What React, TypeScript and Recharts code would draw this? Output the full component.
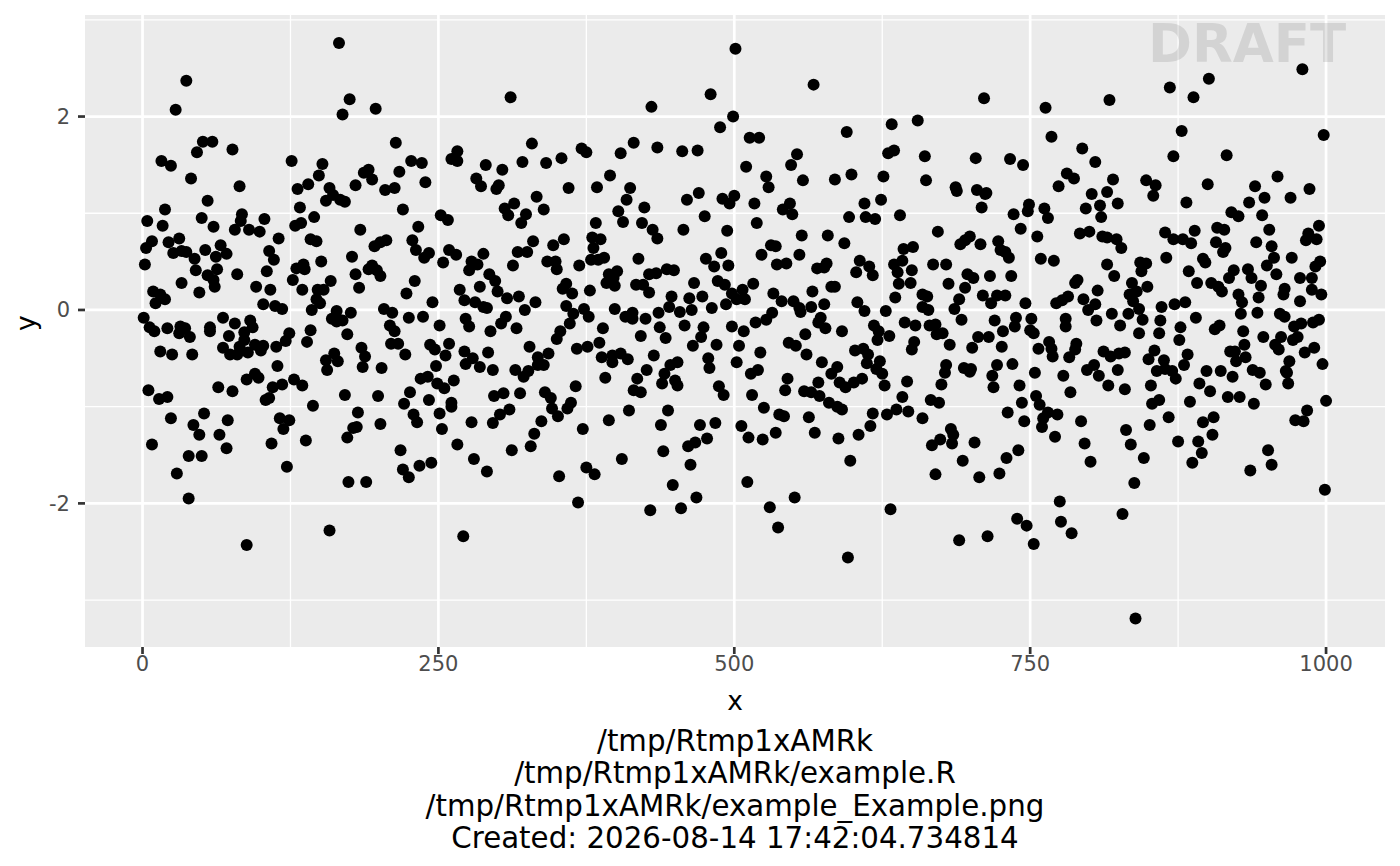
import React from 'react';
import { ScatterChart, Scatter, XAxis, YAxis, CartesianGrid } from 'recharts';

// values, [x, y], one list per picture region
const upperLeft: number[][] = [
  [166,2.76],[37,2.37],[28,2.07],[175,2.18],[169,2.02],[197,2.08],[214,1.73],[51,1.74],[59,1.74],[46,1.63],[76,1.66],[16,1.54],[24,1.49],[41,1.36],[82,1.28],[55,1.13],[19,1.04],
  [126,1.54],[152,1.51],[149,1.39],[140,1.30],[131,1.25],[158,1.26],[161,1.19],[155,1.13],[167,1.14],[171,1.12],[133,1.06],[180,1.29],[187,1.42],[191,1.45],[194,1.35],[205,1.24],[213,1.26],[217,1.43],[227,1.54],[236,1.52],[239,1.32],[220,1.04],[252,0.98],[258,0.93],[261,1.56],[266,1.64],[266,1.54],
  [4,0.92],[17,0.87],[50,0.95],[60,0.86],[84,0.99],[83,0.92],[78,0.83],[90,0.83],[99,0.81],[103,0.94],[115,0.74],[129,0.87],[134,0.90],[145,0.96],[184,0.83],[233,0.86],[228,0.72],[206,0.72],[201,0.70],[196,0.66],[142,0.73],[147,0.71],[8,0.71],[3,0.64],[31,0.74],[22,0.70],[26,0.59],[33,0.61],[37,0.60],[44,0.53],[53,0.62],[66,0.67],[71,0.58],[62,0.55],[107,0.61],[111,0.52],[177,0.55],[231,0.62],[242,0.59],[238,0.54],[259,0.62],[265,0.57],
  [2,0.47],[45,0.41],[63,0.42],[55,0.36],[60,0.31],[80,0.37],[105,0.40],[130,0.43],[136,0.47],[137,0.42],[151,0.50],[127,0.31],[159,0.30],[180,0.37],[194,0.46],[191,0.42],[198,0.41],[201,0.35],[254,0.49],[230,0.30],[33,0.28],[61,0.24],[96,0.24],[108,0.21],[135,0.21],[148,0.21],[153,0.21],[183,0.23],[48,0.18],[9,0.19],[15,0.16],[19,0.11],[11,0.07],[223,0.17],[268,0.21],[147,0.11],[150,0.07],[102,0.06],[112,0.04],[118,0.01],[143,0.00],[245,0.08],[204,0.01],[211,-0.03],[164,-0.01],[176,-0.03],
];

const lowerLeft: number[][] = [
  [1,-0.08],[6,-0.18],[10,-0.22],[21,-0.19],[32,-0.17],[36,-0.19],[31,-0.24],[40,-0.28],[57,-0.18],[57,-0.22],[68,-0.08],[78,-0.14],[91,-0.11],[93,-0.18],[86,-0.23],[73,-0.27],[86,-0.31],[82,-0.38],[68,-0.39],[95,-0.36],[102,-0.37],[100,-0.42],[89,-0.44],[80,-0.46],[74,-0.46],[113,-0.38],[121,-0.32],[124,-0.24],[142,-0.21],[139,-0.33],
  [164,-0.08],[160,-0.09],[169,-0.11],[164,-0.12],[173,-0.25],[185,-0.39],[188,-0.48],[186,-0.59],[162,-0.45],[165,-0.53],[155,-0.52],[156,-0.62],[202,-0.60],[209,-0.16],[213,-0.22],[210,-0.35],[216,-0.35],[222,-0.46],[225,-0.08],[237,-0.07],[251,-0.16],[243,-0.36],[247,-0.41],[259,-0.35],[256,-0.47],[248,-0.58],[15,-0.43],[25,-0.46],[42,-0.46],[114,-0.58],[88,-0.72],[95,-0.66],[98,-0.70],[128,-0.72],[135,-0.78],[110,-0.80],[118,-0.77],[64,-0.80],[76,-0.84],
  [5,-0.83],[14,-0.92],[21,-0.90],[107,-0.91],[104,-0.93],[144,-0.99],[171,-0.88],[199,-0.89],[235,-0.71],[241,-0.69],[249,-0.76],[255,-0.81],[263,-0.73],[226,-0.85],[221,-0.97],[242,-0.93],[261,-0.96],[261,-1.00],[24,-1.12],[52,-1.07],[43,-1.19],[48,-1.29],[72,-1.14],[65,-1.29],[116,-1.12],[124,-1.14],[119,-1.23],[138,-1.35],[182,-1.06],[181,-1.21],[178,-1.22],[173,-1.32],[201,-1.18],[229,-1.08],[232,-1.16],[251,-1.07],[253,-1.23],[266,-1.39],[218,-1.45],
  [8,-1.39],[109,-1.38],[71,-1.43],[39,-1.51],[50,-1.51],[122,-1.62],[244,-1.58],[234,-1.61],[220,-1.65],[225,-1.73],[29,-1.69],[174,-1.78],[189,-1.78],[39,-1.95],[158,-2.28],[88,-2.43],
];

const upperMiddle: number[][] = [
  [501,2.70],[311,2.20],[480,2.23],[567,2.33],[430,2.10],[499,2.00],[488,1.89],[633,1.92],[655,1.96],[595,1.84],[513,1.78],[521,1.78],[329,1.72],[371,1.67],[375,1.63],[404,1.62],[415,1.73],[435,1.68],[456,1.64],[469,1.65],[630,1.62],[635,1.65],[553,1.61],[548,1.50],[510,1.48],[290,1.50],[304,1.45],[321,1.53],[341,1.52],[354,1.57],[395,1.39],[282,1.36],[286,1.28],[301,1.29],[299,1.25],[360,1.26],[384,1.27],[412,1.26],[333,1.17],[409,1.14],[314,1.10],[306,1.05],[339,1.04],[324,0.99],[309,0.98],[320,0.90],[402,1.02],[424,1.06],[383,0.90],[406,0.91],[422,0.90],[431,0.83],[435,0.74],[457,0.83],
  [460,1.14],[470,1.21],[475,0.97],[490,1.15],[500,1.18],[496,1.10],[517,1.10],[519,0.90],[494,0.82],[527,1.38],[529,1.27],[558,1.34],[585,1.35],[599,1.40],[626,1.38],[624,1.14],[610,1.10],[547,1.10],[541,1.04],[549,0.99],[597,0.96],[611,0.96],[619,0.94],[640,0.98],[557,0.77],[579,0.77],[593,0.69],[531,0.67],[535,0.66],[523,0.57],[555,0.57],[643,0.63],[651,0.65],
  [380,0.75],[387,0.73],[381,0.64],[356,0.73],[347,0.67],[330,0.71],[317,0.60],[325,0.60],[288,0.58],[278,0.50],[283,0.47],[276,0.41],[342,0.50],[349,0.50],[350,0.42],[313,0.46],[369,0.46],[379,0.52],[385,0.52],[390,0.54],[419,0.53],[476,0.53],[483,0.45],[489,0.59],[495,0.46],[428,0.37],[434,0.38],[443,0.42],[449,0.41],[401,0.40],[394,0.37],[392,0.28],[399,0.25],[398,0.33],[293,0.37],[298,0.30],[285,0.24],[300,0.19],[358,0.27],[355,0.22],[363,0.17],[378,0.20],[417,0.26],[423,0.26],[428,0.18],[466,0.28],[447,0.14],[462,0.12],[473,0.14],[486,0.30],[492,0.26],[516,0.27],[507,0.21],[498,0.17],[502,0.11],[509,0.11],
  [536,0.47],[544,0.48],[570,0.43],[576,0.44],[578,0.48],[582,0.24],[585,0.24],[566,0.19],[533,0.17],[540,0.09],[550,0.09],[555,0.02],[556,-0.02],[565,0.03],[576,0.06],[604,0.08],[610,-0.01],[628,-0.01],[636,0.13],[606,0.51],[603,0.39],[614,0.45],[617,0.36],[635,0.47],[642,0.51],[638,0.39],[650,0.41],[639,0.27],[649,0.28],[318,0.14],[308,0.12],[332,0.08],[323,0.00],[272,0.10],[281,0.08],[288,0.03],[291,0.02],[358,0.04],[364,-0.04],[373,0.01],[377,-0.07],[399,0.01],[408,-0.07],[414,-0.03],[414,-0.09],[425,-0.09],[436,-0.03],[445,0.03],[454,-0.02],[464,0.00],[481,0.02],[493,0.06],[532,-0.03],[527,-0.10],[518,-0.13],
];

const lowerMiddle: number[][] = [
  [273,-0.09],[276,-0.17],[294,-0.22],[307,-0.07],[303,-0.14],[316,-0.19],[361,-0.14],[353,-0.22],[350,-0.30],[327,-0.38],[272,-0.43],[292,-0.44],[279,-0.50],[273,-0.56],[285,-0.59],[296,-0.62],[367,-0.40],[376,-0.38],[386,-0.34],[389,-0.19],[343,-0.45],[334,-0.49],[339,-0.57],[334,-0.57],[315,-0.62],[326,-0.63],[322,-0.69],[388,-0.49],[397,-0.47],[404,-0.45],[410,-0.51],[397,-0.54],[391,-0.70],[366,-0.79],
  [421,-0.27],[437,-0.18],[442,-0.29],[458,-0.16],[474,-0.18],[472,-0.28],[465,-0.37],[485,-0.36],[432,-0.47],[452,-0.54],[446,-0.57],[478,-0.50],[479,-0.60],[426,-0.62],[441,-0.66],[418,-0.71],[439,-0.76],[450,-0.73],[452,-0.78],[415,-0.83],[421,-0.85],[487,-0.79],[491,-0.88],[498,-0.17],[508,-0.22],[504,-0.37],[502,-0.54],[522,-0.44],[520,-0.62],[514,-0.66],[515,-0.88],[545,-0.71],[543,-0.83],[525,-1.01],
  [560,-0.25],[546,-0.34],[552,-0.37],[561,-0.46],[574,-0.54],[571,-0.13],[573,-0.08],[577,-0.19],[591,-0.22],[618,-0.16],[622,-0.22],[621,-0.31],[631,-0.27],[644,-0.13],[653,-0.16],[652,-0.33],[650,-0.41],[602,-0.42],[609,-0.40],[613,-0.46],[612,-0.55],[623,-0.53],[620,-0.61],[625,-0.66],[587,-0.59],[582,-0.66],[571,-0.75],[589,-0.75],[594,-0.80],[601,-0.75],[608,-0.71],[627,-0.78],[646,-0.74],[559,-0.84],[565,-0.85],[572,-0.89],[580,-0.96],[587,-1.00],[591,-1.03],[642,-0.90],[617,-1.07],[629,-1.08],[637,-1.03],[647,-1.05],[538,-1.08],[542,-1.10],[563,-1.11],
  [297,-0.89],[305,-0.86],[319,-0.86],[340,-0.85],[345,-0.91],[362,-0.96],[359,-1.02],[346,-1.02],[351,-1.10],[310,-1.03],[302,-1.08],[296,-1.17],[278,-1.16],[337,-1.15],[331,-1.28],[372,-1.23],[394,-1.14],[411,-1.04],[444,-1.04],[438,-1.19],[471,-1.19],[484,-1.17],[506,-1.20],[512,-1.32],[524,-1.34],[535,-1.27],[568,-1.27],[588,-1.33],[605,-1.29],[615,-1.20],[477,-1.33],[467,-1.37],[461,-1.41],[328,-1.41],[312,-1.45],[280,-1.54],[291,-1.67],[440,-1.46],[405,-1.54],[375,-1.63],[382,-1.70],[352,-1.72],[463,-1.60],[598,-1.56],[448,-1.81],[511,-1.78],[368,-1.99],[468,-1.94],[551,-1.94],[455,-2.05],[429,-2.07],[530,-2.04],[632,-2.06],[537,-2.25],[271,-2.34],[596,-2.56],
];

const upperRight: number[][] = [
  [980,2.49],[901,2.39],[868,2.30],[888,2.20],[817,2.17],[763,2.09],[711,2.19],[998,1.81],[878,1.85],[768,1.79],[794,1.67],[805,1.53],[871,1.59],[916,1.60],[704,1.57],[733,1.56],[744,1.50],[661,1.59],[662,1.34],[959,1.38],[781,1.41],[787,1.36],[774,1.28],[820,1.35],[848,1.34],[856,1.29],[854,1.18],[802,1.20],[815,1.22],[687,1.27],[688,1.23],[705,1.24],[713,1.21],[712,1.20],[709,1.06],[900,1.30],[940,1.28],[948,1.16],[970,1.16],[986,1.25],[935,1.11],[882,1.11],[824,1.10],[809,1.08],[797,1.05],[749,1.09],[748,1.02],[736,0.99],[762,1.05],[765,0.95],[810,0.96],[920,1.01],[926,0.97],[946,0.98],
  [672,0.81],[994,0.87],[952,0.83],[908,0.85],[914,0.83],[889,0.82],[864,0.80],[871,0.73],[879,0.73],[886,0.69],[792,0.79],[800,0.81],[811,0.76],[815,0.75],[823,0.73],[827,0.64],[742,0.84],[756,0.76],[699,0.76],[695,0.72],[691,0.68],[708,0.68],[723,0.71],[725,0.62],[729,0.60],[732,0.54],[759,0.53],[770,0.51],[985,0.79],[983,0.72],[992,0.73],[907,0.70],[941,0.70],[954,0.66],[915,0.64],[913,0.60],[896,0.53],[865,0.54],[898,0.49],[843,0.49],[848,0.48],[844,0.40],[815,0.47],[821,0.35],[956,0.54],[971,0.54],[950,0.46],[995,0.50],[991,0.45],[958,0.37],[934,0.42],[937,0.33],[922,0.41],[918,0.33],[945,0.25],[978,0.33],[988,0.33],[884,0.40],[891,0.28],[903,0.28],[909,0.24],[912,0.19],[926,0.16],[929,0.08],[943,0.13],[965,0.22],[964,0.16],[978,0.09],[988,0.21],[996,0.16],
  [668,0.47],[679,0.47],[697,0.37],[702,0.33],[716,0.35],[734,0.35],[681,0.27],[695,0.23],[790,0.31],[788,0.28],[807,0.20],[836,0.28],[849,0.24],[840,0.19],[834,0.16],[710,0.15],[722,0.15],[729,0.15],[690,0.11],[717,0.07],[746,0.07],[782,0.14],[777,0.10],[772,0.07],[795,0.11],[805,0.06],[799,0.00],[837,0.09],[842,0.01],[833,-0.04],[861,0.03],[872,0.06],[881,0.08],[686,0.01],[663,0.14],[659,0.16],[664,0.00],[659,0.03],[928,-0.04],[942,-0.03],[961,-0.04],[965,-0.07],[890,-0.08],[819,-0.04],[780,-0.09],[751,-0.09],[738,-0.08],[692,-0.10],[720,-0.11],[806,-0.11],[845,-0.10],[860,-0.11],
];

const lowerRight: number[][] = [
  [994,-0.10],[989,-0.13],[979,-0.14],[973,-0.17],[910,-0.16],[906,-0.20],[877,-0.18],[826,-0.16],[842,-0.24],[859,-0.24],[930,-0.22],[947,-0.28],[962,-0.28],[976,-0.28],[972,-0.31],[780,-0.17],[737,-0.17],[727,-0.22],[750,-0.21],[753,-0.24],[670,-0.15],[665,-0.16],[671,-0.25],[676,-0.24],[706,-0.28],[715,-0.28],[682,-0.36],[701,-0.39],[726,-0.38],[757,-0.40],[766,-0.33],[768,-0.40],[769,-0.48],[789,-0.35],[788,-0.41],[783,-0.49],[812,-0.43],[818,-0.48],[825,-0.45],[830,-0.44],[876,-0.31],[883,-0.46],[880,-0.57],[855,-0.42],[850,-0.51],[863,-0.52],[857,-0.63],[864,-0.61],[870,-0.63],[873,-0.71],[824,-0.62],[804,-0.57],[798,-0.62],[808,-0.68],[778,-0.68],[754,-0.65],[735,-0.56],[722,-0.57],[718,-0.68],[719,-0.80],[741,-0.78],[694,-0.60],[700,-0.61],[699,-0.64],[679,-0.57],[678,-0.65],[675,-0.77],[816,-0.78],[830,-0.82],[852,-0.78],[784,-0.85],[755,-0.89],[758,-0.98],[765,-1.06],[761,-1.12],[773,-1.08],[760,-1.21],[743,-0.96],[731,-1.06],[745,-1.15],[666,-0.93],[673,-0.96],[659,-1.12],[683,-1.23],[685,-1.29],[684,-1.38],[674,-1.34],[667,-1.40],[703,-1.37],[740,-1.45],[730,-1.53],[693,-1.56],[670,-1.70],[707,-1.73],[724,-1.69],
  [771,-1.31],[793,-1.15],[796,-1.38],[801,-1.57],[831,-1.24],[835,-1.39],[846,-1.53],[838,-1.79],[851,-1.19],[867,-1.11],[853,-0.97],[859,-0.93],[875,-1.36],[892,-1.36],[895,-1.48],[887,-1.58],[904,-1.29],[896,-1.16],[905,-1.11],[885,-0.95],[893,-0.76],[902,-0.84],[899,-0.63],[911,-0.63],[921,-0.69],[917,-0.90],[927,-0.90],[939,-0.97],[949,-0.77],[944,-0.65],[938,-0.62],[924,-0.53],[919,-0.43],[923,-0.43],[931,-0.36],[932,-0.49],[957,-0.36],[960,-0.41],[969,-0.53],[966,-0.63],[967,-0.65],[968,-0.76],[982,-0.44],[990,-0.39],[997,-0.56],[1000,-0.94],[984,-1.04],[974,-1.14],[981,-1.15],[951,-1.45],[954,-1.60],[936,-1.66],[999,-1.86],[775,-1.98],[776,-2.19],[785,-2.31],[828,-2.11],[739,-2.16],[747,-2.23],[753,-2.42],[714,-2.34],[690,-2.38],[839,-3.19],
];

const xTicks = [0, 250, 500, 750, 1000];
const xMinor = [125, 375, 625, 875];
const yTicks = [-2, 0, 2];
const yMinor = [-3, -1, 1, 3];
const captionLines = [
  '/tmp/Rtmp1xAMRk',
  '/tmp/Rtmp1xAMRk/example.R',
  '/tmp/Rtmp1xAMRk/example_Example.png',
  'Created: 2026-08-14 17:42:04.734814',
];

const points = [...upperLeft, ...lowerLeft, ...upperMiddle, ...lowerMiddle, ...upperRight, ...lowerRight].map(
  ([x, y]) => ({ x, y })
);

const FONT = '"DejaVu Sans", sans-serif';

const Dot = (props: any) => <circle cx={props.cx} cy={props.cy} r={6} fill="#000" />;

export default function App() {
  return (
    <div style={{ position: 'absolute', left: 0, top: 0, width: 1400, height: 866, background: '#fff' }}>
      <ScatterChart width={1400} height={866} margin={{ top: 15, right: 15, bottom: 0, left: 0 }}>
        <CartesianGrid
          fill="#EBEBEB"
          stroke="#fff"
          strokeWidth={1.3}
          horizontalValues={yMinor}
          verticalValues={xMinor}
        />
        <CartesianGrid stroke="#fff" strokeWidth={2.7} horizontalValues={yTicks} verticalValues={xTicks} />
        <XAxis
          type="number"
          dataKey="x"
          domain={[-48.6, 1049.8]}
          ticks={xTicks}
          height={219}
          axisLine={false}
          tickLine={{ stroke: '#333', strokeWidth: 2.7 }}
          tickSize={7}
          tickMargin={2}
          tick={{ fill: '#4D4D4D', fontSize: 21, fontFamily: FONT }}
          label={{ value: 'x', position: 'insideTop', offset: 44, fill: '#000', fontSize: 26.5, fontFamily: FONT }}
        />
        <YAxis
          type="number"
          dataKey="y"
          domain={[-3.485, 3.05]}
          ticks={yTicks}
          width={85}
          axisLine={false}
          tickLine={{ stroke: '#333', strokeWidth: 2.7 }}
          tickSize={7}
          tickMargin={8}
          tick={{ fill: '#4D4D4D', fontSize: 21, fontFamily: FONT }}
          label={{ value: 'y', angle: -90, position: 'insideLeft', offset: 26, fill: '#000', fontSize: 26.5, fontFamily: FONT }}
        />
        <Scatter data={points} shape={Dot} isAnimationActive={false} />
        <text x={1247} y={62} textAnchor="middle" fontFamily={FONT} fontWeight="bold" fontSize={53} fill="#000" fillOpacity={0.1}>
          DRAFT
        </text>
        {captionLines.map((line, i) => (
          <text key={line} x={735} y={751 + i * 32.3} textAnchor="middle" fontFamily={FONT} fontSize={29.3} fill="#000">
            {line}
          </text>
        ))}
      </ScatterChart>
    </div>
  );
}
